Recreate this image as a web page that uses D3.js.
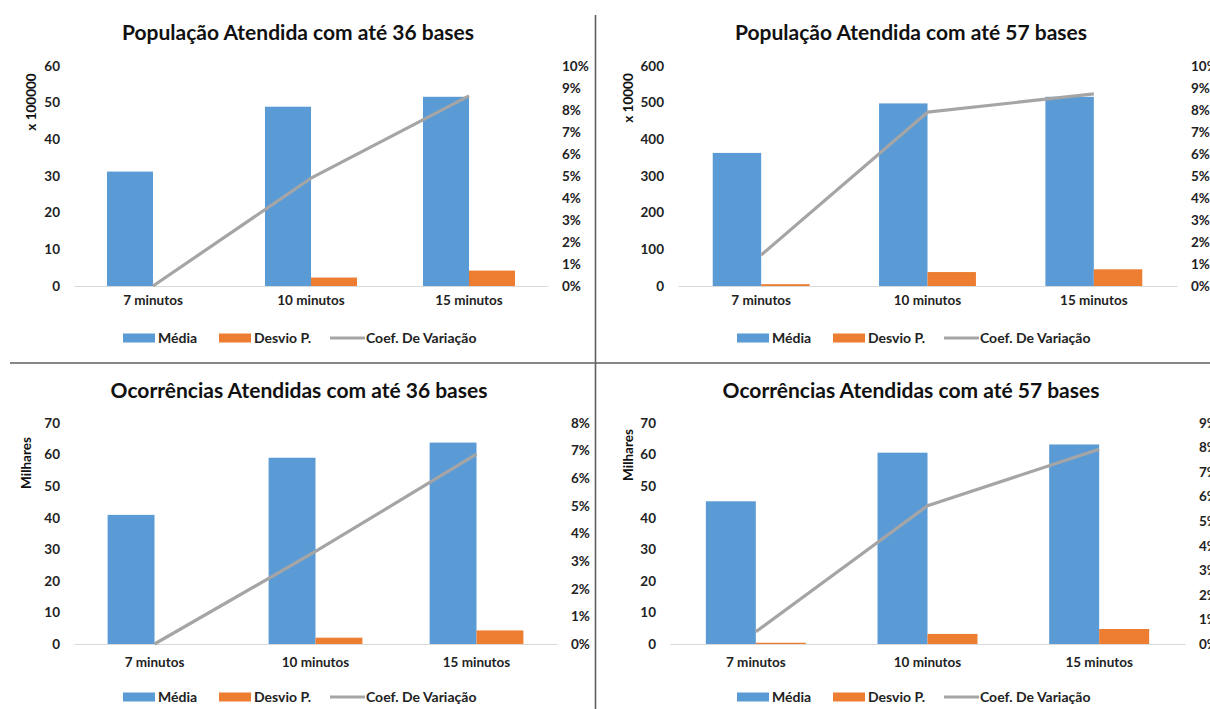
<!DOCTYPE html>
<html>
<head>
<meta charset="utf-8">
<script src="https://cdn.jsdelivr.net/npm/d3@7"></script>
<style>
  html, body { margin: 0; padding: 0; background: #fff; }
  svg { display: block; font-family: Lato, "Open Sans", sans-serif; font-weight: 700; }
</style>
</head>
<body>
<svg id="chart" width="1210" height="709"></svg>
<script>
// Categories shared by all four charts
const categories = ["7 minutos", "10 minutos", "15 minutos"];
const seriesNames = ["Média", "Desvio P.", "Coef. De Variação"];

// População atendida com até 36 bases (x 100000)
const popMedia36 = [31.2, 48.9, 51.6];
const popDesvio36 = [0, 2.3, 4.2];
const popCoef36 = [0, 0.049, 0.0864];

// População atendida com até 57 bases (x 10000)
const popMedia57 = [363, 498, 516];
const popDesvio57 = [5, 38, 45.5];
const popCoef57 = [0.0141, 0.079, 0.0873];

// Ocorrências atendidas com até 36 bases (milhares)
const ocMedia36 = [40.9, 59.0, 63.8];
const ocDesvio36 = [0, 2.0, 4.3];
const ocCoef36 = [0, 0.0335, 0.0687];

// Ocorrências atendidas com até 57 bases (milhares)
const ocMedia57 = [45.2, 60.6, 63.2];
const ocDesvio57 = [0.4, 3.2, 4.75];
const ocCoef57 = [0.005, 0.0563, 0.0793];

// Axis tick values
const ticksPop36 = [0, 10, 20, 30, 40, 50, 60];
const ticksPop57 = [0, 100, 200, 300, 400, 500, 600];
const ticksOc = [0, 10, 20, 30, 40, 50, 60, 70];
const pctTicks10 = [0, .01, .02, .03, .04, .05, .06, .07, .08, .09, .10];
const pctTicks8 = [0, .01, .02, .03, .04, .05, .06, .07, .08];
const pctTicks9 = [0, .01, .02, .03, .04, .05, .06, .07, .08, .09];

const colors = { media: "#5b9bd5", desvio: "#ed7d31", coef: "#a5a5a5" };
const textColor = "#222";

const panels = [
  { title: "População Atendida com até 36 bases", unit: "x 100000",
    media: popMedia36, desvio: popDesvio36, coef: popCoef36,
    yTicks: ticksPop36, pTicks: pctTicks10,
    x0: 74, x1: 548, yTop: 66, yBase: 286, titleX: 298, titleY: 33,
    unitX: 31, unitY: 102, legendX: 123, legendY: 338, catY: 301 },
  { title: "População Atendida com até 57 bases", unit: "x 10000",
    media: popMedia57, desvio: popDesvio57, coef: popCoef57,
    yTicks: ticksPop57, pTicks: pctTicks10,
    x0: 678, x1: 1177, yTop: 66, yBase: 286, titleX: 911, titleY: 33,
    unitX: 628, unitY: 98, legendX: 737, legendY: 338, catY: 301 },
  { title: "Ocorrências Atendidas com até 36 bases", unit: "Milhares",
    media: ocMedia36, desvio: ocDesvio36, coef: ocCoef36,
    yTicks: ticksOc, pTicks: pctTicks8,
    x0: 74, x1: 557, yTop: 423, yBase: 644, titleX: 299, titleY: 391,
    unitX: 26, unitY: 463, legendX: 123, legendY: 697, catY: 663 },
  { title: "Ocorrências Atendidas com até 57 bases", unit: "Milhares",
    media: ocMedia57, desvio: ocDesvio57, coef: ocCoef57,
    yTicks: ticksOc, pTicks: pctTicks9,
    x0: 670, x1: 1185, yTop: 423, yBase: 644, titleX: 911, titleY: 391,
    unitX: 628, unitY: 455, legendX: 737, legendY: 697, catY: 663 }
];

const svg = d3.select("#chart");

// Quadrant separators
svg.append("line").attr("x1", 595.5).attr("x2", 595.5).attr("y1", 15).attr("y2", 709)
  .attr("stroke", "#5f5f5f").attr("stroke-width", 1.6);
svg.append("line").attr("x1", 10).attr("x2", 1210).attr("y1", 363).attr("y2", 363)
  .attr("stroke", "#5f5f5f").attr("stroke-width", 1.6);

function styleTicks(sel, size) {
  sel.selectAll("text").attr("font-size", size).attr("font-family", "Lato, sans-serif")
    .attr("font-weight", 700).attr("fill", textColor);
}

function drawPanel(p) {
  const g = svg.append("g");
  const yMax = p.yTicks[p.yTicks.length - 1];
  const pMax = p.pTicks[p.pTicks.length - 1];

  const x = d3.scaleBand().domain(categories).range([p.x0, p.x1]).padding(0);
  const xs = d3.scaleBand().domain(["media", "desvio"]).range([0, x.bandwidth()])
    .paddingInner(0).paddingOuter(0.717);
  const y = d3.scaleLinear().domain([0, yMax]).range([p.yBase, p.yTop]);
  const yp = d3.scaleLinear().domain([0, pMax]).range([p.yBase, p.yTop]);

  // Title
  g.append("text").attr("x", p.titleX).attr("y", p.titleY).attr("dy", "0.35em")
    .attr("text-anchor", "middle").attr("font-size", 21).attr("fill", "#111")
    .text(p.title);

  // Left value axis
  const ya = g.append("g").attr("transform", `translate(${p.x0 - 4},0)`)
    .call(d3.axisLeft(y).tickValues(p.yTicks).tickSize(0).tickPadding(10).tickFormat(d3.format("d")));
  ya.select(".domain").remove();
  styleTicks(ya, 13.5);

  // Right percentage axis
  const pa = g.append("g").attr("transform", `translate(${p.x1 + 4},0)`)
    .call(d3.axisRight(yp).tickValues(p.pTicks).tickSize(0).tickPadding(10).tickFormat(d3.format(".0%")));
  pa.select(".domain").remove();
  styleTicks(pa, 13.5);

  // Unit label
  g.append("text").attr("transform", `translate(${p.unitX},${p.unitY}) rotate(-90)`)
    .attr("dy", "0.35em").attr("text-anchor", "middle").attr("font-size", 13.5)
    .attr("fill", "#111").text(p.unit);

  // Bars
  const rows = categories.map((c, i) => ({ cat: c, media: p.media[i], desvio: p.desvio[i], coef: p.coef[i] }));
  const grp = g.selectAll(".cat").data(rows).join("g")
    .attr("transform", d => `translate(${x(d.cat)},0)`);
  grp.selectAll("rect").data(d => [{ k: "media", v: d.media }, { k: "desvio", v: d.desvio }])
    .join("rect")
    .attr("x", d => xs(d.k)).attr("width", xs.bandwidth())
    .attr("y", d => y(d.v)).attr("height", d => y(0) - y(d.v))
    .attr("fill", d => colors[d.k]);

  // Category axis
  const xa = g.append("g").attr("transform", `translate(0,${p.yBase})`)
    .call(d3.axisBottom(x).tickSize(0).tickSizeOuter(0).tickPadding(p.catY - p.yBase - 6));
  xa.select(".domain").attr("stroke", "#d9d9d9").attr("stroke-width", 1.2);
  styleTicks(xa, 13.5);

  // Coefficient of variation line
  const line = d3.line().x(d => x(d.cat) + x.bandwidth() / 2).y(d => yp(d.coef));
  g.append("path").datum(rows).attr("d", line).attr("fill", "none")
    .attr("stroke", colors.coef).attr("stroke-width", 3.2).attr("stroke-linejoin", "round");

  // Legend
  const lg = g.append("g").attr("transform", `translate(${p.legendX},${p.legendY})`);
  const items = [
    { name: seriesNames[0], key: "media", off: 0, type: "rect" },
    { name: seriesNames[1], key: "desvio", off: 96, type: "rect" },
    { name: seriesNames[2], key: "coef", off: 207, type: "line" }
  ];
  items.forEach(it => {
    if (it.type === "rect") {
      lg.append("rect").attr("x", it.off).attr("y", -4.5).attr("width", 32).attr("height", 9)
        .attr("fill", colors[it.key]);
    } else {
      lg.append("line").attr("x1", it.off).attr("x2", it.off + 35).attr("y1", 0).attr("y2", 0)
        .attr("stroke", colors[it.key]).attr("stroke-width", 3.2);
    }
    lg.append("text").attr("x", it.off + (it.type === "rect" ? 35 : 36)).attr("y", 0)
      .attr("dy", "0.35em").attr("font-size", 14).attr("fill", textColor).text(it.name);
  });
}

panels.forEach(drawPanel);
</script>
</body>
</html>
